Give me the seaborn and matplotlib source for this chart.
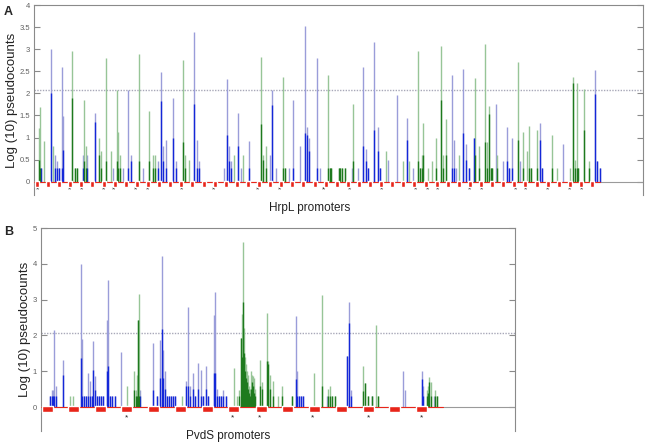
import numpy as np
import matplotlib
matplotlib.use("Agg")
import matplotlib.pyplot as plt
import seaborn as sns

# ---- Panel A (HrpL) : position along promoter track, peak height, dark core height
a_blue_pos = [7, 17, 21, 23, 25, 28, 29, 49, 53, 61, 79, 89, 94, 97, 109, 124, 127, 129, 132, 139, 142,
              160, 163, 165, 190, 193, 195, 197, 204, 207, 215, 236, 238, 242, 255, 259, 266, 271, 273,
              275, 283, 286, 318, 324, 329, 332, 334, 340, 344, 346, 354, 363, 373, 379, 418, 420, 422,
              429, 432, 435, 440, 462, 469, 473, 475, 478, 486, 506, 508, 529, 561, 563, 566]
a_blue_top = [0.31, 3.0, 0.6, 0.48, 0.31, 2.6, 1.48, 0.61, 0.61, 1.56, 0.31, 0.31, 2.08, 0.61, 0.31, 0.48,
              2.48, 0.8, 0.95, 1.89, 0.48, 3.38, 0.95, 0.48, 0.31, 2.32, 0.8, 0.48, 1.56, 0.31, 0.92, 0.61,
              2.08, 0.31, 0.31, 1.85, 0.8, 3.52, 1.25, 1.0, 2.81, 0.31, 0.31, 0.31, 2.59, 0.74, 0.31, 3.17,
              1.23, 0.31, 0.5, 1.96, 1.44, 0.31, 2.41, 0.95, 0.31, 2.55, 0.86, 0.31, 0.99, 1.75, 0.48, 1.23,
              0.31, 1.0, 0.48, 1.32, 0.31, 0.86, 2.52, 0.48, 0.31]
a_blue_core = [0.31, 2.0, 0.31, 0.31, 0.31, 0.31, 0.71, 0.31, 0.31, 1.36, 0.0, 0.0, 0.31, 0.48, 0.0, 0.31,
               1.83, 0.48, 0.31, 1.0, 0.31, 1.77, 0.31, 0.31, 0.0, 1.05, 0.48, 0.31, 0.8, 0.0, 0.3, 0.0,
               1.74, 0.0, 0.0, 0.31, 0.0, 1.1, 1.05, 0.7, 0.31, 0.0, 0.0, 0.0, 0.8, 0.48, 0.31, 1.18, 0.7,
               0.31, 0.0, 0.0, 0.95, 0.0, 0.31, 0.31, 0.0, 1.1, 0.5, 0.31, 0.99, 0.0, 0.0, 0.48, 0.31, 0.31,
               0.0, 0.95, 0.31, 0.0, 1.99, 0.48, 0.31]

a_green_pos = [5, 6, 10, 19, 38, 41, 43, 50, 52, 65, 67, 72, 77, 83, 84, 86, 105, 115, 119, 121, 149, 151,
               155, 200, 209, 227, 229, 232, 249, 251, 294, 296, 297, 305, 306, 308, 311, 319, 352, 369,
               375, 384, 386, 388, 389, 394, 398, 402, 407, 409, 412, 425, 441, 445, 451, 453, 455, 457,
               458, 463, 484, 489, 493, 495, 497, 503, 518, 523, 536, 539, 541, 543, 544, 550, 555]
a_green_top = [1.22, 1.7, 0.92, 0.8, 2.96, 0.31, 0.31, 1.85, 0.8, 1.0, 0.7, 2.79, 0.7, 2.08, 1.12, 0.61,
               2.89, 1.59, 0.61, 0.61, 2.76, 0.6, 0.5, 0.61, 0.61, 2.83, 0.61, 0.8, 2.38, 0.31, 2.41, 0.31,
               0.31, 0.31, 0.31, 0.31, 0.31, 1.77, 0.7, 0.48, 0.48, 2.96, 0.31, 0.61, 1.32, 0.31, 0.48,
               1.0, 3.07, 0.61, 1.43, 0.61, 2.35, 0.8, 3.11, 0.9, 1.71, 0.31, 0.31, 0.61, 2.71, 1.12, 0.7,
               1.26, 0.31, 1.18, 1.05, 0.31, 0.31, 2.38, 0.5, 2.23, 0.31, 2.1, 0.48]
a_green_core = [0.5, 0.31, 0.0, 0.0, 1.89, 0.31, 0.31, 0.48, 0.31, 0.61, 0.31, 0.48, 0.0, 0.48, 0.31, 0.31,
                0.48, 0.48, 0.31, 0.31, 0.9, 0.31, 0.0, 0.0, 0.0, 1.3, 0.5, 0.31, 0.31, 0.31, 0.31, 0.31,
                0.31, 0.31, 0.31, 0.31, 0.31, 0.48, 0.0, 0.0, 0.0, 0.48, 0.31, 0.31, 0.61, 0.0, 0.0, 0.31,
                1.86, 0.31, 0.61, 0.0, 0.61, 0.31, 0.9, 0.31, 1.54, 0.31, 0.31, 0.31, 0.95, 0.31, 0.0, 0.31,
                0.31, 0.31, 0.31, 0.0, 0.0, 2.24, 0.31, 0.31, 0.31, 1.16, 0.31]

a_promoters = [3, 14, 25, 36, 47, 58, 70, 81, 92, 103, 114, 125, 136, 147, 158, 170, 181, 192, 203, 214,
               225, 236, 247, 258, 269, 281, 292, 303, 314, 325, 336, 347, 358, 369, 380, 392, 403, 414,
               425, 436, 447, 458, 469, 480, 491, 503, 514, 525, 536, 547, 558]
a_starred = [3, 35, 47, 69, 79, 102, 113, 147, 179, 223, 245, 290, 315, 348, 381, 393, 403, 436, 448,
             481, 492, 514, 536, 547]

# ---- Panel B (PvdS)
b_blue_pos = [9, 11, 12, 13, 15, 22, 40, 41, 43, 45, 47, 49, 51, 52, 54, 56, 58, 60, 62, 66, 67, 69, 71,
              74, 80, 99, 112, 116, 119, 121, 122, 124, 126, 128, 130, 132, 134, 145, 147, 149, 152, 154,
              157, 160, 162, 165, 167, 173, 174, 176, 178, 180, 182, 185, 255, 256, 258, 260, 262, 286,
              306, 308, 310, 331, 362, 364, 381, 382, 393]
b_blue_top = [0.3, 0.48, 0.48, 2.15, 0.6, 1.32, 4.0, 1.9, 0.3, 0.3, 0.95, 0.72, 0.3, 1.83, 0.86, 0.3,
              0.3, 0.3, 0.3, 2.43, 3.56, 0.3, 0.3, 0.3, 1.55, 0.48, 1.79, 0.3, 1.88, 4.21, 1.6, 1.0, 0.3,
              0.3, 0.3, 0.3, 0.3, 0.72, 2.78, 0.6, 0.95, 0.3, 1.23, 1.03, 0.3, 1.14, 0.3, 2.57, 3.22, 0.5,
              0.3, 0.3, 0.48, 0.3, 2.55, 1.0, 0.3, 0.3, 0.3, 0.3, 1.42, 2.94, 0.48, 0.3, 1.0, 0.48, 1.0,
              0.6, 0.3]
b_blue_core = [0.3, 0.3, 0.3, 0.3, 0.3, 0.9, 1.37, 0.3, 0.3, 0.3, 0.3, 0.3, 0.3, 1.03, 0.48, 0.3, 0.3,
               0.3, 0.3, 1.0, 1.14, 0.3, 0.3, 0.3, 0.0, 0.3, 0.48, 0.3, 0.8, 2.19, 0.8, 0.5, 0.3, 0.3,
               0.3, 0.3, 0.3, 0.6, 0.6, 0.3, 0.5, 0.3, 0.5, 0.3, 0.3, 0.5, 0.3, 0.95, 0.95, 0.3, 0.3, 0.3,
               0.3, 0.3, 0.77, 0.3, 0.3, 0.3, 0.3, 0.0, 1.42, 2.34, 0.3, 0.0, 0.0, 0.0, 0.77, 0.3, 0.0]

b_green_pos = [29, 32, 86, 93, 95, 96, 97, 98, 141, 193, 196, 198, 200, 201, 202, 203, 204, 205, 206, 207,
               208, 209, 210, 211, 212, 213, 214, 219, 221, 226, 227, 229, 232, 237, 241, 251, 273, 281,
               287, 289, 291, 294, 322, 324, 327, 331, 335, 337, 386, 387, 388, 390, 394, 396]
b_green_top = [0.3, 0.3, 0.6, 1.0, 0.48, 0.9, 2.42, 3.15, 0.3, 1.09, 0.3, 0.48, 1.93, 2.6, 4.61, 2.2,
               1.39, 1.2, 1.0, 0.9, 0.6, 0.5, 1.0, 0.9, 0.86, 0.8, 0.5, 1.32, 0.7, 2.62, 1.28, 0.9, 0.72,
               0.3, 0.6, 0.3, 0.95, 3.13, 0.5, 0.6, 0.3, 0.3, 1.14, 0.68, 0.3, 0.3, 2.3, 0.3, 0.48, 0.6,
               0.83, 0.7, 0.48, 0.3]
b_green_core = [0.0, 0.0, 0.0, 0.48, 0.3, 0.3, 2.42, 0.3, 0.0, 0.0, 0.0, 0.3, 1.93, 1.4, 2.93, 1.5, 1.0,
                0.8, 0.7, 0.5, 0.4, 0.3, 0.5, 0.7, 0.6, 0.4, 0.3, 0.6, 0.5, 1.28, 1.2, 0.5, 0.3, 0.0, 0.3,
                0.3, 0.0, 0.58, 0.3, 0.3, 0.3, 0.3, 0.45, 0.68, 0.3, 0.3, 0.0, 0.3, 0.3, 0.4, 0.7, 0.3,
                0.3, 0.3]

b_promoters = [6, 32.5, 59, 85.5, 112.5, 139.5, 166.5, 192.5, 220.5, 246.5, 273.5, 300.5, 327.5, 353.5, 380.5]
b_starred = [86, 192, 219, 272, 328, 381]

threshold = 2.07

sns.set_theme(style="white")
plt.rcParams['font.family'] = ['Liberation Sans', 'DejaVu Sans']

fig = plt.figure(figsize=(6.47, 4.44), dpi=100)
ax_a = fig.add_axes([34 / 647, 1 - 195 / 444, 609 / 647, 190 / 444])
ax_b = fig.add_axes([41 / 647, 1 - 431 / 444, 474 / 647, 203 / 444])

pale_blue, dark_blue = "#9a9dd9", "#1428d8"
pale_green, dark_green = "#97c597", "#1e7a1e"
spine_grey = "#8a8a8a"


def draw_panel(ax, blue, green, promoters, starred, width, box_w, box_h, star_y, red_end, ylim, yticks,
               label_x):
    for (pos, top, core), pale, dark in ((blue, pale_blue, dark_blue), (green, pale_green, dark_green)):
        ax.vlines(pos, 0, top, color=pale, lw=1.0, zorder=2)
        ax.vlines(pos, 0, core, color=dark, lw=1.0, zorder=3)
    ax.axhline(0, color="#9a9a9a", lw=0.8, zorder=1)
    ax.plot([0, red_end], [0, 0], color="#e8251a", lw=0.8, zorder=4)
    ax.axhline(threshold, color="#a8a8b8", lw=1.0, ls=(0, (1, 1)), zorder=1)
    ax.bar(promoters, box_h, width=box_w, bottom=-box_h + 0.02, color="#e8251a", zorder=5)
    for s in starred:
        ax.text(s, star_y, "*", ha="center", va="center", fontsize=6, color="#222222")

    ax.set_xlim(0, width)
    ax.set_ylim(*ylim)
    ax.set_xticks(np.linspace(0, width, 7 if width < 500 else 9))
    ax.set_xticklabels([])
    ax.set_yticks(yticks)
    ax.set_yticklabels([("%g" % t) for t in yticks], fontsize=5.5, color="#606060")
    ax.tick_params(axis="x", which="both", direction="in", top=True, bottom=False, length=4,
                   color=spine_grey, width=0.8)
    ax.tick_params(axis="y", which="both", direction="in", left=True, right=True, length=4,
                   color=spine_grey, width=0.8, pad=3)
    sns.despine(ax=ax, top=False, right=False, left=False, bottom=True)
    for side in ("left", "top", "right"):
        ax.spines[side].set_color(spine_grey)
        ax.spines[side].set_linewidth(0.8)
    ax.set_ylabel("Log (10) pseudocounts", fontsize=9.5, color="#222222")
    ax.yaxis.set_label_coords(label_x, 0.5)


draw_panel(ax_a, (a_blue_pos, a_blue_top, a_blue_core), (a_green_pos, a_green_top, a_green_core),
           a_promoters, a_starred, 609, 4.8, 0.13, -0.19, 566, (-0.3, 4), np.arange(0, 4.01, 0.5), -0.026)
draw_panel(ax_b, (b_blue_pos, b_blue_top, b_blue_core), (b_green_pos, b_green_top, b_green_core),
           b_promoters, b_starred, 474, 11, 0.16, -0.29, 402, (-0.67, 5), np.arange(0, 6, 1), -0.022)

fig.text(310 / 647, 1 - 208 / 444, "HrpL promoters", ha="center", va="center", fontsize=8.5, color="#222222")
fig.text(228 / 647, 1 - 436 / 444, "PvdS promoters", ha="center", va="center", fontsize=8.5, color="#222222")
fig.text(4 / 647, 1 - 12 / 444, "A", fontsize=9, fontweight="bold", va="center")
fig.text(4 / 647, 1 - 232 / 444, "B", fontsize=9, fontweight="bold", va="center")

fig.savefig("out.png", dpi=100)
